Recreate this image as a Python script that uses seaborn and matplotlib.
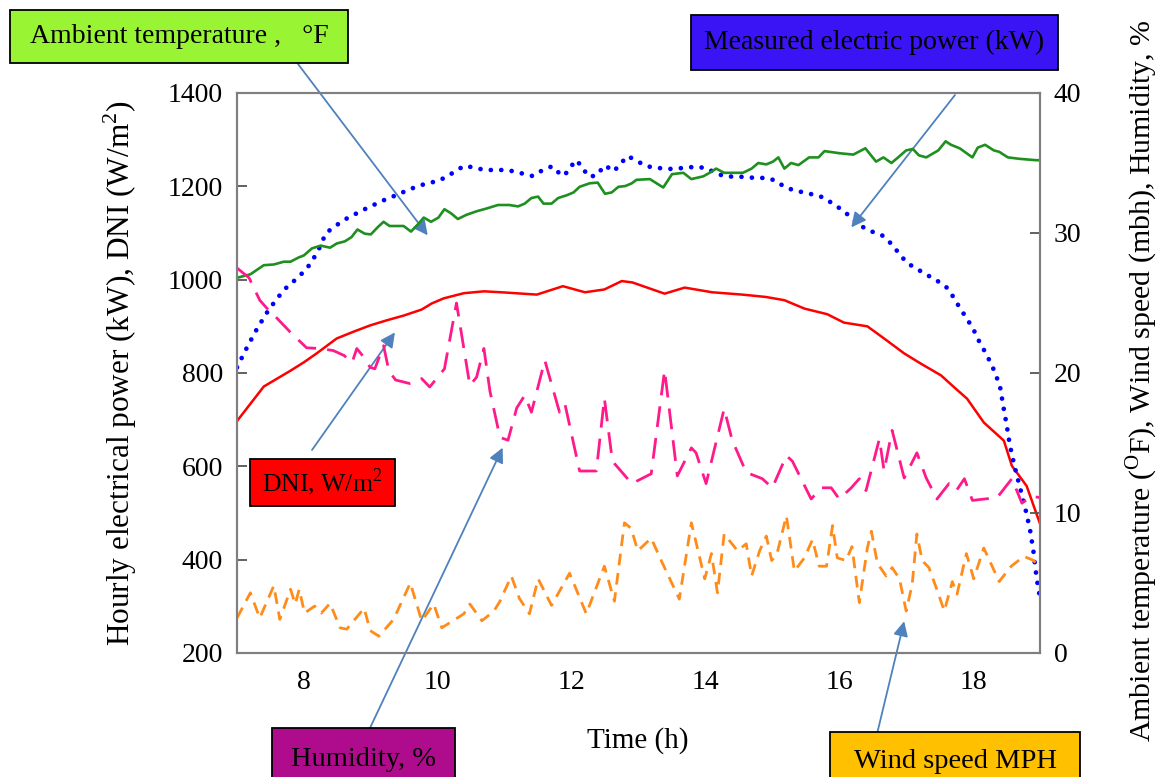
import numpy as np
import pandas as pd
import matplotlib.pyplot as plt
import seaborn as sns
from matplotlib.patches import Rectangle

# --- data ---
# DNI (W/m2), left axis
t_dni = [7.0, 7.2, 7.4, 7.6, 7.8, 8.0, 8.19, 8.49, 8.75, 8.99, 9.24, 9.49, 9.76, 9.91,
         10.09, 10.39, 10.69, 10.95, 11.48, 11.87, 12.2, 12.49, 12.75, 12.91, 13.39,
         13.69, 14.1, 14.55, 14.9, 15.18, 15.48, 15.82, 16.07, 16.42, 16.67, 16.97,
         17.22, 17.52, 17.72, 17.91, 18.16, 18.46, 18.58, 18.8, 19.0]
dni = [697, 734, 771, 788, 805, 823, 842, 874, 889, 902, 913, 923, 936, 949,
       960, 971, 975, 973, 968, 986, 973, 979, 997, 994, 970,
       983, 973, 968, 963, 956, 938, 926, 908, 900, 874, 842,
       820, 795, 769, 745, 694, 655, 601, 558, 477]

# measured electric power (kW), left axis
t_power = [7.0, 7.15, 7.3, 7.45, 7.6, 7.75, 7.9, 8.05, 8.2, 8.33, 8.5, 8.65, 8.8, 8.95,
           9.1, 9.25, 9.4, 9.55, 9.7, 9.85, 10.0, 10.15, 10.3, 10.4, 10.55, 10.7, 10.85,
           11.0, 11.15, 11.3, 11.42, 11.57, 11.71, 11.86, 11.96, 12.05, 12.15, 12.24,
           12.36, 12.5, 12.63, 12.74, 12.84, 12.98, 13.12, 13.27, 13.42, 13.57, 13.71,
           13.86, 14.01, 14.16, 14.3, 14.45, 14.6, 14.74, 14.89, 15.04, 15.18, 15.33,
           15.47, 15.62, 15.77, 15.91, 16.06, 16.2, 16.35, 16.49, 16.64, 16.77, 16.89,
           17.01, 17.15, 17.3, 17.45, 17.6, 17.7, 17.8, 17.9, 18.0, 18.1, 18.2, 18.3,
           18.4, 18.45, 18.5, 18.55, 18.62, 18.7, 18.78, 18.85, 18.9, 18.95, 19.0]
power = [812, 855, 895, 930, 960, 985, 1003, 1025, 1058, 1100, 1118, 1132, 1143, 1154,
         1164, 1174, 1182, 1192, 1200, 1207, 1211, 1222, 1236, 1244, 1240, 1235, 1235,
         1235, 1232, 1226, 1222, 1235, 1243, 1222, 1233, 1256, 1245, 1222,
         1222, 1245, 1232, 1250, 1265, 1254, 1243, 1240, 1237, 1238, 1240,
         1242, 1239, 1228, 1221, 1221, 1220, 1218, 1218, 1213, 1199, 1191,
         1187, 1182, 1176, 1162, 1148, 1130, 1113, 1103, 1095, 1078, 1057,
         1036, 1024, 1011, 999, 984, 964, 940, 918, 895, 865, 840, 810,
         773, 730, 690, 645, 600, 555, 510, 465, 420, 360, 318]

# ambient temperature (F), right axis
t_temp = [7.0, 7.2, 7.4, 7.55, 7.7, 7.8, 7.92, 8.0, 8.12, 8.25, 8.39, 8.49, 8.61, 8.71,
          8.8, 8.91, 9.0, 9.1, 9.19, 9.28, 9.49, 9.6, 9.72, 9.79, 9.9, 10.01, 10.1,
          10.2, 10.3, 10.43, 10.58, 10.73, 10.9, 11.07, 11.2, 11.3, 11.4, 11.5, 11.58,
          11.7, 11.8, 11.93, 12.03, 12.12, 12.27, 12.39, 12.5, 12.6, 12.7, 12.8, 12.9,
          12.97, 13.17, 13.37, 13.5, 13.67, 13.79, 13.97, 14.08, 14.16, 14.28, 14.56,
          14.69, 14.79, 14.91, 15.01, 15.09, 15.18, 15.28, 15.39, 15.55, 15.69, 15.78,
          16.0, 16.21, 16.39, 16.55, 16.66, 16.78, 16.88, 17.0, 17.1, 17.19, 17.3,
          17.48, 17.59, 17.67, 17.8, 17.99, 18.07, 18.18, 18.31, 18.39, 18.52, 18.69,
          18.94, 19.0]
temp = [26.8, 27.05, 27.7, 27.75, 27.95, 27.95, 28.25, 28.4, 28.9, 29.1, 28.95, 29.25, 29.4, 29.7,
        30.25, 29.95, 29.9, 30.4, 30.8, 30.5, 30.5, 30.1, 30.7, 31.1, 30.8, 31.1, 31.7,
        31.4, 31.0, 31.3, 31.55, 31.75, 32.0, 32.0, 31.9, 32.1, 32.5, 32.6, 32.1,
        32.1, 32.5, 32.7, 32.9, 33.3, 33.55, 33.6, 32.8, 32.9, 33.3, 33.35, 33.55,
        33.8, 33.85, 33.25, 34.2, 34.3, 33.85, 34.05, 34.35, 34.6, 34.3, 34.3,
        34.6, 35.0, 34.9, 35.1, 35.4, 34.6, 35.0, 34.85, 35.4, 35.4, 35.85,
        35.7, 35.6, 36.05, 35.1, 35.4, 35.0, 35.4, 35.9, 36.0, 35.55, 35.4,
        35.9, 36.55, 36.3, 36.05, 35.4, 36.1, 36.3, 35.9, 35.8, 35.4, 35.3,
        35.2, 35.2]

# humidity (%), right axis
t_hum = [7.0, 7.18, 7.34, 7.47, 7.6, 7.8, 8.04, 8.24, 8.44, 8.6, 8.72, 8.79, 8.9, 8.99,
         9.06, 9.19, 9.27, 9.37, 9.58, 9.76, 9.88, 10.1, 10.28, 10.48, 10.58, 10.69,
         10.78, 10.93, 11.05, 11.18, 11.3, 11.4, 11.6, 11.82, 11.9, 12.12, 12.37, 12.49,
         12.61, 12.9, 13.19, 13.39, 13.58, 13.79, 13.86, 14.01, 14.28, 14.4, 14.61,
         14.85, 15.0, 15.21, 15.3, 15.58, 15.73, 15.88, 16.0, 16.18, 16.3, 16.4, 16.6,
         16.67, 16.79, 16.97, 17.16, 17.3, 17.46, 17.64, 17.75, 17.87, 17.99, 18.36,
         18.58, 18.73, 18.87, 19.0]
humidity = [27.5, 26.8, 25.2, 24.5, 23.9, 22.9, 21.8, 21.75, 21.6, 21.25, 20.75, 21.75, 21.1, 20.4,
            20.3, 21.95, 20.15, 19.5, 19.25, 19.6, 19.0, 20.3, 25.0, 19.1, 19.7, 21.75,
            18.7, 15.4, 15.2, 17.5, 18.4, 17.2, 20.9, 17.2, 17.8, 13.0, 13.0, 18.2,
            13.7, 12.1, 12.8, 20.2, 12.65, 14.65, 14.3, 12.1, 17.45, 15.2, 12.9,
            12.45, 11.8, 14.1, 13.7, 11.0, 11.8, 11.8, 11.0, 11.8, 12.45, 11.6, 15.3,
            13.0, 15.9, 12.5, 14.3, 12.5, 11.0, 12.1, 11.6, 12.45, 10.9, 11.1,
            12.45, 10.7, 11.2, 11.1]

# wind speed (mph), right axis
t_wind = [7.0, 7.2, 7.34, 7.55, 7.64, 7.8, 7.87, 7.93, 8.01, 8.16, 8.26, 8.39, 8.54, 8.64,
          8.9, 8.99, 9.12, 9.34, 9.59, 9.76, 9.94, 10.06, 10.39, 10.48, 10.66, 10.84,
          10.93, 11.1, 11.22, 11.37, 11.5, 11.7, 11.97, 12.22, 12.49, 12.64, 12.79, 12.89,
          12.99, 13.19, 13.34, 13.61, 13.79, 13.99, 14.09, 14.18, 14.28, 14.48, 14.61,
          14.69, 14.81, 14.91, 14.99, 15.07, 15.21, 15.33, 15.48, 15.6, 15.7, 15.81,
          15.9, 15.97, 16.1, 16.19, 16.3, 16.42, 16.48, 16.57, 16.7, 16.79, 16.9, 17.0,
          17.09, 17.16, 17.24, 17.34, 17.45, 17.57, 17.69, 17.76, 17.9, 18.01, 18.16,
          18.39, 18.57, 18.76, 18.91, 19.0]
wind = [2.5, 4.3, 2.5, 4.8, 2.4, 4.55, 3.5, 4.55, 2.85, 3.35, 2.85, 3.55, 1.8, 1.7,
        3.2, 1.6, 1.2, 2.4, 5.0, 2.3, 3.5, 1.8, 2.8, 3.5, 2.3, 3.0,
        3.7, 5.5, 3.9, 2.8, 5.3, 3.4, 5.7, 2.8, 6.2, 3.7, 9.3, 8.9,
        7.3, 8.2, 6.6, 3.85, 9.3, 5.3, 7.1, 4.3, 8.5, 7.3, 7.8,
        5.5, 7.3, 8.35, 6.6, 7.1, 9.8, 5.85, 6.8, 8.1, 6.2, 6.2,
        9.1, 6.8, 6.6, 7.6, 3.6, 7.5, 8.7, 6.4, 5.5, 6.1, 5.3, 3.0,
        4.9, 8.5, 6.6, 6.1, 4.65, 3.0, 5.1, 4.2, 7.1, 5.3, 7.5,
        5.1, 6.2, 6.9, 6.6, 5.9]

x_ticks = [8, 10, 12, 14, 16, 18]
left_ticks = [200, 400, 600, 800, 1000, 1200, 1400]
right_ticks = [0, 10, 20, 30, 40]

# --- style ---
sns.set_theme(style="white")
plt.rcParams['font.family'] = ['Liberation Serif', 'DejaVu Serif']
plt.rcParams['mathtext.fontset'] = 'custom'
plt.rcParams['mathtext.rm'] = 'Liberation Serif'
plt.rcParams['text.color'] = 'black'
plt.rcParams['axes.labelcolor'] = 'black'
plt.rcParams['xtick.color'] = '#555555'
plt.rcParams['ytick.color'] = '#555555'
plt.rcParams['xtick.labelcolor'] = 'black'
plt.rcParams['ytick.labelcolor'] = 'black'

W, H = 1159, 777
fig = plt.figure(figsize=(W / 100, H / 100), dpi=100)
ax = fig.add_axes([237 / W, 1 - 653 / H, (1040 - 237) / W, (653 - 93) / H])
ax2 = ax.twinx()

sns.lineplot(x=t_dni, y=dni, ax=ax, color='#ff0000', lw=1.8)
sns.lineplot(x=t_power, y=power, ax=ax, color='#0000ff', lw=3.4,
             linestyle=(0, (0.01, 2.2)), dash_capstyle='round')
sns.lineplot(x=t_temp, y=temp, ax=ax2, color='#1f8f1f', lw=1.9)
sns.lineplot(x=t_hum, y=humidity, ax=ax2, color='#ff1a8c', lw=2.0,
             linestyle=(0, (7.5, 4)))
sns.lineplot(x=t_wind, y=wind, ax=ax2, color='#ff8c1a', lw=2.0,
             linestyle=(0, (4.2, 2.8)))

ax.set_xlim(7, 19)
ax.set_ylim(200, 1400)
ax2.set_ylim(0, 40)
ax.set_xticks(x_ticks)
ax.set_yticks(left_ticks)
ax2.set_yticks(right_ticks)

for a in (ax, ax2):
    for s in a.spines.values():
        s.set_color('#7f7f7f')
        s.set_linewidth(1.5)
    a.tick_params(direction='in', length=7, width=1.3, labelsize=20, pad=10)
ax.tick_params(axis='x', pad=12)

ax.set_xlabel('Time (h)', fontsize=21)
ax.set_ylabel(r'Hourly electrical power (kW), DNI (W/m$^2$)', fontsize=22.5)
ax2.set_ylabel(r'Ambient temperature ($^{\mathrm{O}}$F), Wind speed (mbh), Humidity, %',
               fontsize=21.5)
ax.xaxis.set_label_coords(0.4994, -0.132)
ax.yaxis.set_label_coords(-0.122, 0.50)
ax2.yaxis.set_label_coords(1.104, 0.486)


# --- annotation boxes (figure pixels) ---
def box(x0, y0, x1, y1, color, text, size=20.5):
    fig.add_artist(Rectangle((x0 / W, 1 - y1 / H), (x1 - x0) / W, (y1 - y0) / H,
                             transform=fig.transFigure, facecolor=color,
                             edgecolor='black', lw=1.3))
    fig.text((x0 + x1) / 2 / W, 1 - (y0 + y1) / 2 / H, text, ha='center',
             va='center', fontsize=size, color='black')


def arrow(x_start, y_start, tip):
    ax.annotate('', xy=tip, xycoords='data',
                xytext=(x_start / W, 1 - y_start / H), textcoords='figure fraction',
                arrowprops=dict(arrowstyle='-|>', color='#4f81bd', lw=1.3,
                                mutation_scale=22, shrinkA=0, shrinkB=0),
                annotation_clip=False)


arrow(298, 64, (9.85, 1095))
arrow(955, 95, (16.18, 1112))
arrow(312, 450, (9.36, 887))
arrow(370, 728, (10.97, 640))
arrow(877, 734, (16.97, 268))

box(10, 10, 348, 63, '#99f533', 'Ambient temperature ,   °F', 20)
box(691, 15, 1058, 70, '#3a14f5', 'Measured electric power (kW)', 20)
box(250, 459, 395, 506, '#ff0000', r'DNI, W/m$^2$', 18.5)
box(272, 728, 455, 790, '#ae0c8c', 'Humidity, %')
box(830, 732, 1080, 790, '#ffc000', 'Wind speed MPH')

fig.savefig('out.png', dpi=100)
